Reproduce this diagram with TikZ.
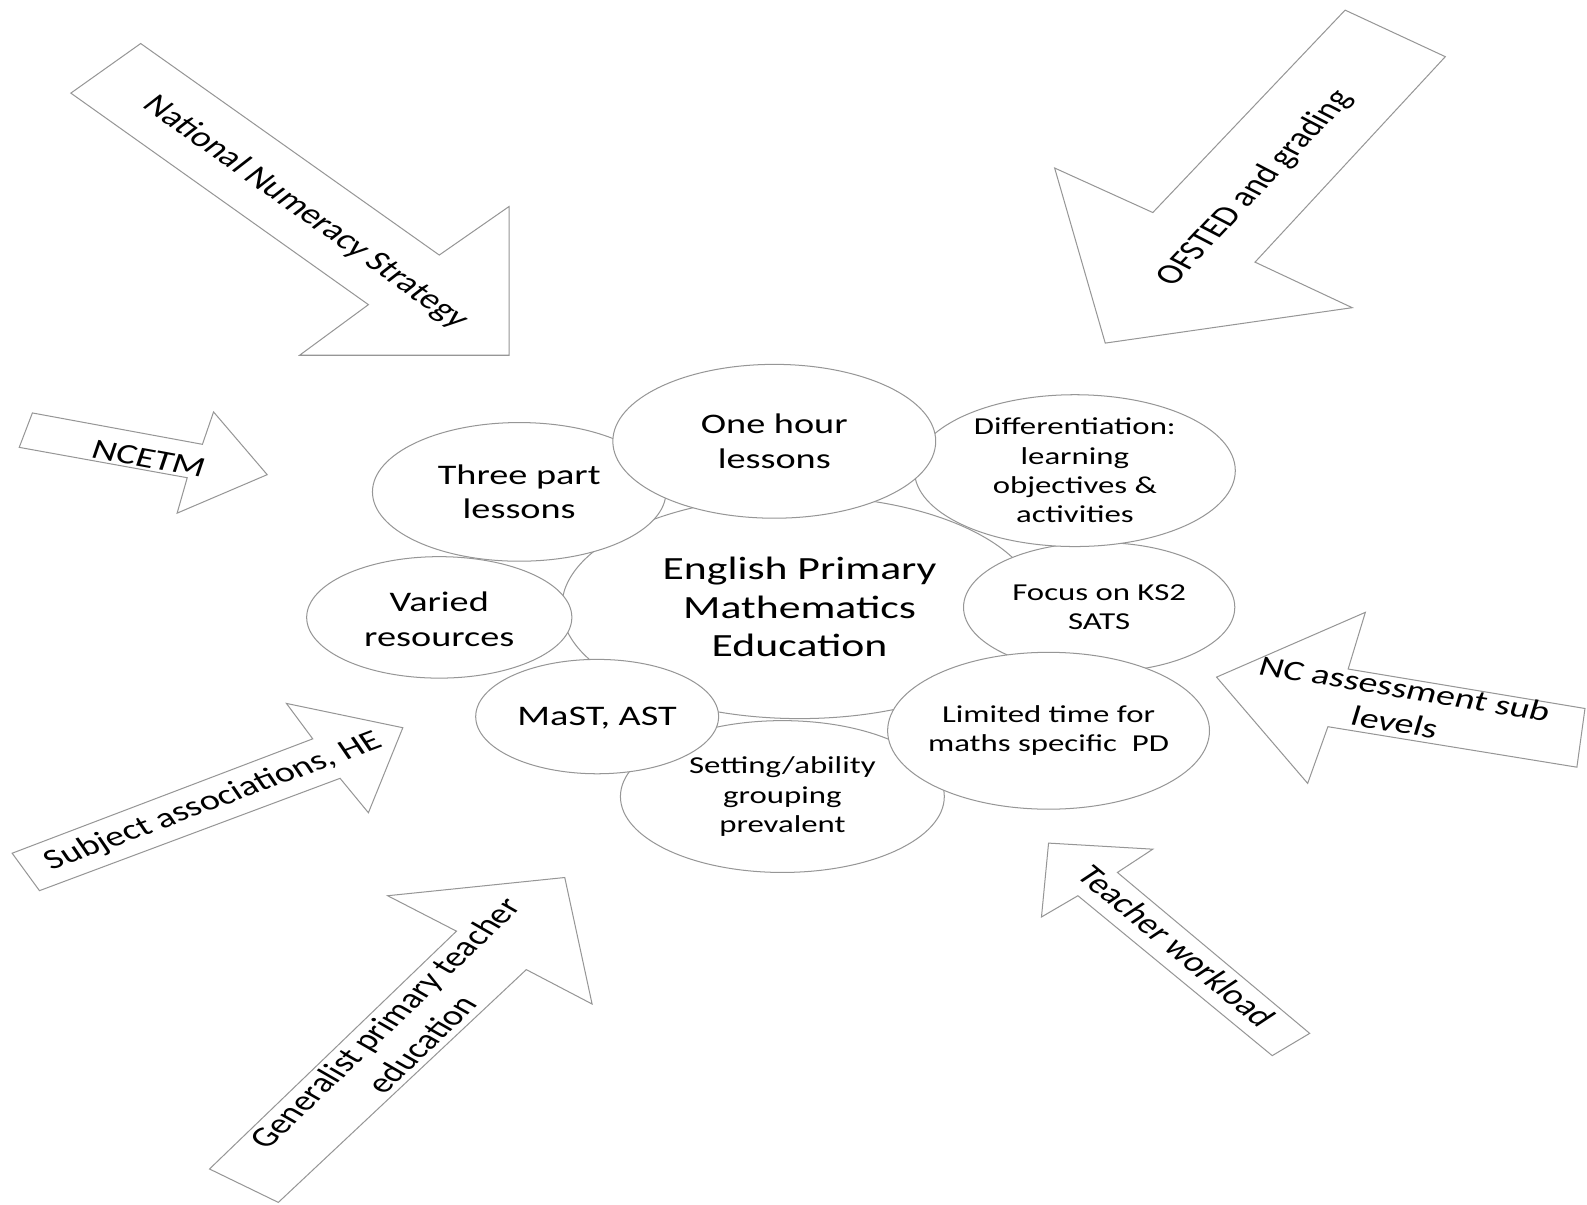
\documentclass[tikz,border=0pt]{standalone}
\usepackage{fontspec}
\setmainfont{Carlito}
\usepackage{tikz}
\usetikzlibrary{shapes.geometric}
\definecolor{edgegray}{RGB}{150,150,150}
\tikzset{
    bubble/.style={draw=edgegray, fill=white, ellipse, inner sep=0pt, line width=1pt},
    bubbletext/.style={xscale=1.35, align=center, inner sep=0pt, font=\fontsize{28}{34}\selectfont},
    smalltext/.style={bubbletext, font=\fontsize{24}{29}\selectfont},
    centretext/.style={bubbletext, font=\fontsize{32}{38}\selectfont},
    bigarrow/.style={draw=edgegray, fill=white, line width=1pt, line join=miter},
    arrowtext/.style={xscale=1.35, align=center, inner sep=0pt, font=\fontsize{28}{34}\selectfont}
}

\begin{document}
\begin{tikzpicture}[x=1pt, y=-1pt]
\useasboundingbox (0,0) rectangle (1568,1190);

\draw[bigarrow] (139,43) -- (70,92) -- (364,301) -- (296,351) -- (503,351) -- (503,204) -- (434,252) -- cycle;
\draw[bigarrow] (1329,10) -- (1428,56) -- (1240,259) -- (1336,304) -- (1092,339) -- (1042,166) -- (1139,210) -- cycle;
\draw[bigarrow] (32,408) -- (19,442) -- (185,472) -- (175,507) -- (264,469) -- (211,407) -- (200,439) -- cycle;
\draw[bigarrow] (1566,700) -- (1558,758) -- (1312,718) -- (1292,774) -- (1202,669) -- (1349,605) -- (1332,661) -- cycle;
\draw[bigarrow] (12,843) -- (39,880) -- (336,769) -- (364,803) -- (398,719) -- (283,695) -- (309,730) -- cycle;
\draw[bigarrow] (207,1155) -- (275,1188) -- (520,958) -- (585,992) -- (558,867) -- (383,885) -- (451,920) -- cycle;
\draw[bigarrow] (1036,833) -- (1029,906) -- (1065,885) -- (1257,1043) -- (1294,1021) -- (1104,862) -- (1139,839) -- cycle;

\node[arrowtext, rotate=-43.7] (nns) at (302,210) {National Numeracy Strategy};
\node[arrowtext, rotate=54.9] (ofsted) at (1240,186) {OFSTED and grading};
\node[arrowtext, rotate=-14] (ncetm) at (147,453) {NCETM};
\node[arrowtext, rotate=-12.6] (ncas) at (1383,697) {NC assessment sub\\levels};
\node[arrowtext, rotate=26.8] (subj) at (211,792) {Subject associations, HE};
\node[arrowtext, rotate=52.2] (gen) at (398,1021) {Generalist primary teacher\\education};
\node[arrowtext, rotate=-48.2] (work) at (1163,935) {Teacher workload};

\node[bubble, minimum width=470, minimum height=220] (epme) at (790,600) {};
\node[bubble, minimum width=320, minimum height=150] (setting) at (773,787) {};
\node[bubble, minimum width=268, minimum height=128] (focus) at (1086,600) {};
\node[bubble, minimum width=317, minimum height=150] (diff) at (1062,465) {};
\node[bubble, minimum width=290, minimum height=137] (threepart) at (513,486) {};
\node[bubble, minimum width=262, minimum height=120] (varied) at (434,610) {};
\node[bubble, minimum width=240, minimum height=113] (mast) at (590,708) {};
\node[bubble, minimum width=318, minimum height=155] (limited) at (1036,722) {};
\node[bubble, minimum width=319, minimum height=152] (onehour) at (765,436) {};

\node[centretext] (t-epme) at (epme) {English Primary\\Mathematics\\Education};
\node[smalltext] (t-setting) at (setting) {Setting/ability\\grouping\\prevalent};
\node[smalltext] (t-focus) at (focus) {Focus on KS2\\SATS};
\node[smalltext] (t-diff) at (diff) {Differentiation:\\learning\\objectives \&\\activities};
\node[bubbletext] (t-threepart) at (threepart) {Three part\\lessons};
\node[bubbletext] (t-varied) at ([yshift=-2]varied.center) {Varied\\resources};
\node[bubbletext] (t-mast) at ([yshift=-2]mast.center) {MaST, AST};
\node[smalltext] (t-limited) at (limited) {Limited time for\\maths specific\ \ PD};
\node[bubbletext] (t-onehour) at (onehour) {One hour\\lessons};
\end{tikzpicture}
\end{document}
